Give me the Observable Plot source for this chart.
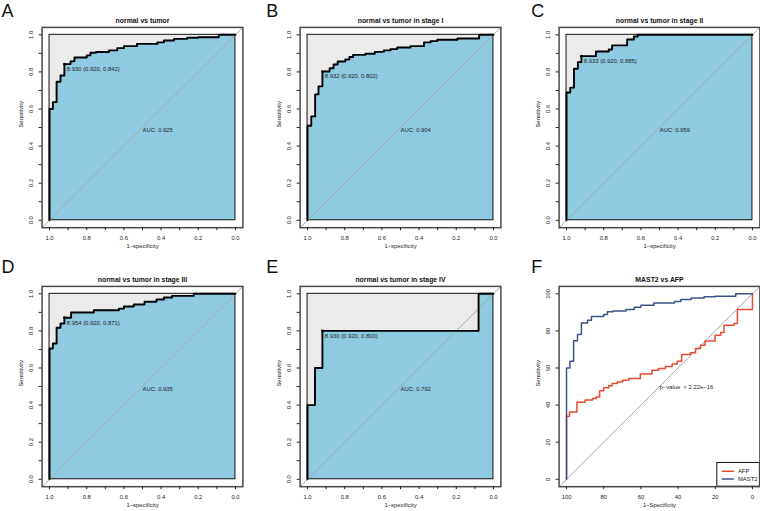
<!DOCTYPE html>
<html><head><meta charset="utf-8">
<script src="https://cdn.jsdelivr.net/npm/d3@7"></script>
<script src="https://cdn.jsdelivr.net/npm/@observablehq/plot@0.6"></script>
<style>
html,body{margin:0;padding:0;background:#fff;overflow:hidden;}
#wrap{position:relative;width:760px;height:511px;overflow:hidden;background:#fff;}
.panel{position:absolute;}
.panel svg{max-width:none !important;display:block;}
</style></head><body><div id="wrap"></div>
<script>
// ---------- data ----------
const letters = ["A", "B", "C", "D", "E", "F"];
const titles = ["normal vs tumor", "normal vs tumor in stage I", "normal vs tumor in stage II",
  "normal vs tumor in stage III", "normal vs tumor in stage IV", "MAST2 vs AFP"];
const aucLabels = ["AUC: 0.925", "AUC: 0.904", "AUC: 0.959", "AUC: 0.935", "AUC: 0.792"];
const thrLabels = ["8.930 (0.920, 0.842)", "8.932 (0.920, 0.802)", "8.933 (0.920, 0.885)",
  "8.954 (0.920, 0.871)", "8.930 (0.920, 0.800)"];
const thrSpec = [0.920, 0.920, 0.920, 0.920, 0.920];
const thrSens = [0.842, 0.802, 0.885, 0.871, 0.800];

// ROC steps: at specificity spec[i] the sensitivity rises to sens[i]
const aSpec = [1.000, 0.982, 0.962, 0.941, 0.920, 0.887, 0.866, 0.800, 0.780, 0.750, 0.680, 0.636, 0.600, 0.530, 0.420, 0.385, 0.330, 0.260, 0.200, 0.090];
const aSens = [0.600, 0.637, 0.747, 0.781, 0.842, 0.857, 0.878, 0.889, 0.903, 0.907, 0.916, 0.928, 0.939, 0.951, 0.959, 0.969, 0.978, 0.984, 0.987, 1.000];
const bSpec = [1.000, 0.980, 0.959, 0.941, 0.920, 0.881, 0.860, 0.838, 0.797, 0.775, 0.755, 0.689, 0.638, 0.590, 0.554, 0.518, 0.446, 0.374, 0.338, 0.302, 0.194, 0.077];
const bSens = [0.510, 0.560, 0.679, 0.722, 0.802, 0.820, 0.840, 0.856, 0.867, 0.880, 0.892, 0.898, 0.908, 0.916, 0.923, 0.932, 0.939, 0.959, 0.966, 0.973, 0.980, 1.000];
const cSpec = [1.000, 0.980, 0.960, 0.939, 0.920, 0.842, 0.773, 0.755, 0.674, 0.638, 0.617];
const cSens = [0.689, 0.715, 0.817, 0.853, 0.885, 0.910, 0.921, 0.943, 0.975, 0.991, 1.000];
const dSpec = [1.000, 0.982, 0.962, 0.941, 0.920, 0.884, 0.762, 0.627, 0.600, 0.547, 0.489, 0.425, 0.385, 0.341, 0.224];
const dSens = [0.705, 0.732, 0.817, 0.840, 0.871, 0.899, 0.911, 0.920, 0.932, 0.942, 0.957, 0.969, 0.980, 0.989, 1.000];
const eSpec = [1.00, 0.96, 0.92, 0.08];
const eSens = [0.40, 0.60, 0.80, 1.00];

// Panel F (percent)
const mast2Spec = [100, 98.2, 96.2, 94.1, 92.0, 88.7, 86.6, 80.0, 78.0, 75.0, 68.0, 63.6, 60.0, 53.0, 42.0, 38.5, 33.0, 26.0, 20.0, 9.0];
const mast2Sens = [60.0, 63.7, 74.7, 78.1, 84.2, 85.7, 87.8, 88.9, 90.3, 90.7, 91.6, 92.8, 93.9, 95.1, 95.9, 96.9, 97.8, 98.4, 98.7, 100];
const afpSpec = [100, 98.4, 94.4, 90.0, 86.0, 84.0, 82.2, 80.0, 77.3, 75.5, 72.8, 69.8, 66.5, 60.3, 54.0, 50.4, 46.8, 43.2, 40.5, 38.1, 33.3, 30.6, 27.9, 25.5, 20.1, 17.1, 15.3, 9.9, 8.1, 0];
const afpSens = [34.0, 36.3, 41.5, 42.8, 43.5, 44.4, 47.7, 49.3, 50.4, 51.6, 52.5, 53.4, 54.3, 56.8, 58.8, 59.7, 60.8, 62.1, 63.7, 67.3, 68.2, 70.5, 72.3, 74.5, 77.7, 79.1, 83.1, 84.0, 91.5, 100];
const pValueLabel = "p\u2212value  < 2.22e\u221216";
const legendNames = ["AFP", "MAST2"];

// ticks
const unitTicks = [0, 0.1, 0.2, 0.3, 0.4, 0.5, 0.6, 0.7, 0.8, 0.9, 1.0];
const unitLabelTicks = [0, 0.2, 0.4, 0.6, 0.8, 1.0];
const pctTicks = [0, 20, 40, 60, 80, 100];

const specs = [aSpec, bSpec, cSpec, dSpec, eSpec];
const senss = [aSens, bSens, cSens, dSens, eSens];

// ---------- layout ----------
const FW = 200.8, FH = 200.3;
const ML = 41.6, MT = 26.9, MR = 1.2, MB = 26;
const frameLeft = [41.6, 299.9, 558.9];
const frameTop = [26.9, 286.3];
const letterLeft = [1, 266, 531];
const letterBase = [16.3, 273];

const FONT = "Liberation Sans, Arial, Helvetica, sans-serif";
const fs = 5.9;
const BLUE_FILL = "#8fcbe0", GRAY_FILL = "#ebebeb";
const RED = "#e64b35", NAVY = "#3c5488";

function stepPath(spec, sens) {
  const pts = [{s: spec[0], v: 0}];
  let prev = 0;
  spec.forEach((s, i) => { pts.push({s, v: prev}); pts.push({s, v: sens[i]}); prev = sens[i]; });
  pts.push({s: 0, v: prev});
  return pts;
}

function commonMarks(i, ticks, labelTicks, fmt, xTitle) {
  const col = i % 3, row = Math.floor(i / 3);
  const isLab = d => labelTicks.some(v => Math.abs(v - d) < 1e-9);
  return [
    Plot.frame({stroke: "#4a4a4a", strokeWidth: 1.5}),
    Plot.axisX(ticks, {tickSize: 3, tickPadding: 5.2, tickFormat: d => isLab(d) ? fmt(d) : "", fontSize: fs, label: null}),
    Plot.axisY(ticks, {tickSize: 3, tickFormat: () => "", label: null}),
    Plot.text(labelTicks, {y: d => d, text: d => fmt(d), frameAnchor: "left", dx: -11, rotate: -90, textAnchor: "middle", fontSize: fs, fill: "#222"}),
    Plot.text([xTitle], {text: d => d, frameAnchor: "bottom", dy: 20.6, fontSize: fs, fill: "#222"}),
    Plot.text(["Sensitivity"], {text: d => d, frameAnchor: "left", dx: -20.6, rotate: -90, fontSize: fs, fill: "#222"}),
    Plot.text([titles[i]], {text: d => d, frameAnchor: "top", dy: -4.5, lineAnchor: "bottom", fontWeight: "bold", fontSize: 6.9, fill: "#111"}),
    Plot.text([letters[i]], {text: d => d, frameAnchor: "top-left",
      dx: letterLeft[col] - frameLeft[col], dy: letterBase[row] - frameTop[row],
      textAnchor: "start", lineAnchor: "bottom", fontSize: 18, fill: "#111"})
  ];
}

function mount(i, svg) {
  const col = i % 3, row = Math.floor(i / 3);
  const div = document.createElement("div");
  div.className = "panel";
  div.style.left = (frameLeft[col] - ML) + "px";
  div.style.top = (frameTop[row] - MT) + "px";
  div.appendChild(svg);
  document.getElementById("wrap").appendChild(div);
}

const plotBase = {
  width: ML + FW + MR, height: MT + FH + MB,
  marginLeft: ML, marginTop: MT, marginRight: MR, marginBottom: MB,
  style: {fontFamily: FONT, fontSize: fs + "px", color: "#222", background: "white", overflow: "visible"}
};

const f1 = d3.format(".1f");
for (let i = 0; i < 5; i++) {
  const pts = stepPath(specs[i], senss[i]);
  const marks = [
    Plot.rect([0], {x1: 1, x2: 0, y1: 0, y2: 1, fill: GRAY_FILL}),
    Plot.area(pts, {x1: "s", y1: 0, y2: "v", fill: BLUE_FILL}),
    Plot.rect([0], {x1: 1, x2: 0, y1: 0, y2: 1, fill: "none", stroke: "#111", strokeWidth: 1}),
    Plot.line([{s: 1.04, v: -0.04}, {s: -0.04, v: 1.04}], {x: "s", y: "v", stroke: "#a8a8a8", strokeWidth: 1}),
    Plot.line(pts, {x: "s", y: "v", stroke: "#000", strokeWidth: 1.9}),
    Plot.dot([0], {x: thrSpec[i], y: thrSens[i], r: 1.4, fill: "#000"}),
    Plot.text([thrLabels[i]], {x: thrSpec[i], y: thrSens[i], text: d => d, textAnchor: "start", dx: 2.4, dy: 5, fontSize: fs, fill: "#222"}),
    Plot.text([aucLabels[i]], {x: 0.5, y: 0.485, text: d => d, textAnchor: "start", fontSize: fs, fill: "#222"}),
    ...commonMarks(i, unitTicks, unitLabelTicks, f1, "1\u2212specificity")
  ];
  const svg = Plot.plot({...plotBase, x: {domain: [1.04, -0.04]}, y: {domain: [-0.04, 1.04]}, marks});
  mount(i, svg);
}

// Panel F
{
  const afp = stepPath(afpSpec, afpSens);
  const mast = stepPath(mast2Spec, mast2Sens);
  const marks = [
    Plot.line([{s: 104, v: -4}, {s: -4, v: 104}], {x: "s", y: "v", stroke: "#a8a8a8", strokeWidth: 1}),
    Plot.line(afp, {x: "s", y: "v", stroke: RED, strokeWidth: 1.5}),
    Plot.line(mast, {x: "s", y: "v", stroke: NAVY, strokeWidth: 1.5}),
    Plot.text([pValueLabel], {x: 50, y: 49.8, text: d => d, textAnchor: "start", fontSize: fs, fill: "#222"}),
    // legend
    Plot.rect([0], {x1: 18.9, x2: -4, y1: -4, y2: 8.8, fill: "white", stroke: "#111", strokeWidth: 1}),
    Plot.line([{s: 16.2, v: 4.3}, {s: 10.3, v: 4.3}], {x: "s", y: "v", stroke: RED, strokeWidth: 1.5}),
    Plot.line([{s: 16.2, v: 0.16}, {s: 10.3, v: 0.16}], {x: "s", y: "v", stroke: NAVY, strokeWidth: 1.5}),
    Plot.text([legendNames[0]], {x: 7.8, y: 4.3, text: d => d, textAnchor: "start", fontSize: fs, fill: "#222"}),
    Plot.text([legendNames[1]], {x: 7.8, y: 0.16, text: d => d, textAnchor: "start", fontSize: fs, fill: "#222"}),
    ...commonMarks(5, pctTicks, pctTicks, d => String(d), "1\u2212Specificity")
  ];
  const svg = Plot.plot({...plotBase, x: {domain: [104, -4]}, y: {domain: [-4, 104]}, marks});
  mount(5, svg);
}
</script></body></html>
